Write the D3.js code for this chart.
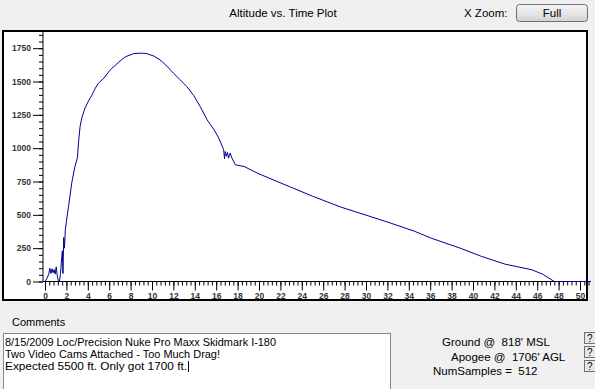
<!DOCTYPE html>
<html>
<head>
<meta charset="utf-8">
<script src="https://cdn.jsdelivr.net/npm/d3@7"></script>
<style>
body { margin: 0; background: #f0f0f0; font-family: "Liberation Sans", Arial, sans-serif; }
svg { display: block; }
.tick text { font-family: "Liberation Sans", Arial, sans-serif; font-weight: bold; font-size: 8.5px; fill: #333; }
</style>
</head>
<body>
<div id="chart"></div>
<script>

// flight samples
var timeSec = [0, 0.2, 0.35, 0.45, 0.55, 0.65, 0.75, 0.85, 0.95, 1.05, 1.15, 1.25, 1.35, 1.45, 1.55, 1.62, 1.68, 1.75, 1.82, 1.9,
    2.0, 2.2, 2.5, 2.8, 3.03, 3.15, 3.28, 3.44, 3.75, 4.1, 4.4, 4.7, 5.0, 5.5, 6.1, 6.9, 7.5, 8.3, 9.0, 9.5,
    10.2, 10.75, 11.4, 12.0, 12.6, 13.25, 13.9, 14.5, 15.15, 15.8, 16.24, 16.7, 16.78, 16.85, 16.95, 17.05, 17.15, 17.3, 17.5, 17.8,
    18.6, 19.84, 21.7, 22.96, 25.0, 27.65, 30.0, 32.3, 34.5, 36.1, 38.8, 40.8, 43.0, 45.5, 46.5, 47.6, 51.0];
var altitudeFt = [0, 25, 55, 100, 60, 95, 65, 90, 55, 110, 40, 5, 0, 60, 170, 230, 60, 330, 250, 390,
    450, 563, 740, 863, 928, 1060, 1163, 1228, 1303, 1360, 1400, 1450, 1488, 1525, 1588, 1646, 1685, 1710, 1713, 1710,
    1690, 1663, 1615, 1563, 1515, 1463, 1395, 1313, 1213, 1138, 1076, 988, 920, 975, 940, 968, 925, 963, 920, 875,
    863, 813, 750, 708, 640, 558, 498, 438, 378, 325, 250, 188, 130, 88, 55, 0, 0];

var xMajorTicks = [0, 2, 4, 6, 8, 10, 12, 14, 16, 18, 20, 22, 24, 26, 28, 30, 32, 34, 36, 38, 40, 42, 44, 46, 48, 50];
var yMajorTicks = [0, 250, 500, 750, 1000, 1250, 1500, 1750];

var commentLines = ["8/15/2009 Loc/Precision Nuke Pro Maxx Skidmark I-180",
    "Two Video Cams Attached - Too Much Drag!",
    "Expected 5500 ft. Only got 1700 ft."];
var infoLines = ["Ground @  818' MSL", "Apogee @  1706' AGL", "NumSamples =  512"];

var w = 595;
var h = 389;

var svg = d3.select("#chart")
            .append("svg")
            .attr("width", w)
            .attr("height", h);

// frame of the plot panel
svg.append("rect")
    .attr("x", 3)
    .attr("y", 31)
    .attr("width", 584)
    .attr("height", 269)
    .attr("fill", "white")
    .attr("stroke", "black")
    .attr("stroke-width", 2);

var x = d3.scaleLinear().domain([0, 50]).range([45, 580]);
var y = d3.scaleLinear().domain([0, 1750]).range([281.5, 48.2]);

// y axis
svg.append("g")
    .attr("transform", "translate(43,0)")
    .call(d3.axisLeft(y).tickValues(d3.range(0, 1851, 50)).tickSize(4).tickFormat(""))
    .call(function(g) { g.select(".domain").remove(); });

svg.append("g")
    .attr("transform", "translate(43,0)")
    .call(d3.axisLeft(y).tickValues(yMajorTicks).tickSize(10).tickPadding(2).tickFormat(d3.format("d")))
    .call(function(g) { g.select(".domain").remove(); });

// x axis
svg.append("g")
    .attr("transform", "translate(0," + y(0) + ")")
    .call(d3.axisBottom(x).tickValues(d3.range(0, 51, 0.4)).tickSize(4).tickFormat(""))
    .call(function(g) { g.select(".domain").remove(); });

svg.append("g")
    .attr("transform", "translate(0," + y(0) + ")")
    .call(d3.axisBottom(x).tickValues(xMajorTicks).tickSize(9).tickPadding(2))
    .call(function(g) { g.select(".domain").remove(); });

svg.append("line")
    .attr("x1", 43).attr("x2", 43)
    .attr("y1", 31).attr("y2", y(0))
    .attr("stroke", "black");

svg.append("line")
    .attr("x1", 43).attr("x2", 591)
    .attr("y1", y(0)).attr("y2", y(0))
    .attr("stroke", "black");

var line = d3.line()
    .x(function(d, i) { return x(timeSec[i]); })
    .y(function(d) { return y(d); });

svg.append("path")
    .datum(altitudeFt)
    .attr("d", line)
    .attr("fill", "none")
    .attr("stroke", "#00008f")
    .attr("stroke-width", 1);

// header
svg.append("text")
    .attr("x", 283)
    .attr("y", 17)
    .attr("text-anchor", "middle")
    .style("font-size", "11.5px")
    .text("Altitude vs. Time Plot");

svg.append("text")
    .attr("x", 464)
    .attr("y", 17)
    .style("font-size", "11.5px")
    .text("X Zoom:");

var grad = svg.append("defs").append("linearGradient")
    .attr("id", "btn")
    .attr("x1", 0).attr("x2", 0).attr("y1", 0).attr("y2", 1);
grad.append("stop").attr("offset", "0%").attr("stop-color", "#f4f4f4");
grad.append("stop").attr("offset", "50%").attr("stop-color", "#e6e6e6");
grad.append("stop").attr("offset", "100%").attr("stop-color", "#d2d2d2");

svg.append("rect")
    .attr("x", 516.5).attr("y", 4.5)
    .attr("width", 71).attr("height", 17)
    .attr("rx", 3)
    .attr("fill", "url(#btn)")
    .attr("stroke", "#707070");

svg.append("text")
    .attr("x", 552)
    .attr("y", 17)
    .attr("text-anchor", "middle")
    .style("font-size", "11.5px")
    .text("Full");

// comments box
svg.append("text")
    .attr("x", 12)
    .attr("y", 326)
    .style("font-size", "11px")
    .text("Comments");

svg.append("rect")
    .attr("x", 3.5).attr("y", 333.5)
    .attr("width", 387).attr("height", 60)
    .attr("fill", "white")
    .attr("stroke", "#828790");

var commentWidths = [271, 215, 182];
svg.selectAll("text.comment")
    .data(commentLines)
    .enter()
    .append("text")
    .attr("class", "comment")
    .attr("x", 5)
    .attr("y", function(d, i) { return 346 + i * 12.2; })
    .attr("textLength", function(d, i) { return commentWidths[i]; })
    .attr("lengthAdjust", "spacingAndGlyphs")
    .style("font-size", "11.5px")
    .text(function(d) { return d; });

svg.append("line")
    .attr("x1", 188.5).attr("x2", 188.5)
    .attr("y1", 361).attr("y2", 372)
    .attr("stroke", "black");

// info labels on the right
var infoX = [442, 451, 433];
svg.selectAll("text.info")
    .data(infoLines)
    .enter()
    .append("text")
    .attr("class", "info")
    .attr("x", function(d, i) { return infoX[i]; })
    .attr("y", function(d, i) { return 346 + i * 14.5; })
    .style("font-size", "11.5px")
    .style("white-space", "pre")
    .text(function(d) { return d; });

svg.selectAll("rect.help")
    .data(infoLines)
    .enter()
    .append("rect")
    .attr("class", "help")
    .attr("x", 584.5)
    .attr("y", function(d, i) { return 332.5 + i * 14; })
    .attr("width", 14).attr("height", 11)
    .attr("fill", "#e8e8e8")
    .attr("stroke", "#707070");

svg.selectAll("text.help")
    .data(infoLines)
    .enter()
    .append("text")
    .attr("class", "help")
    .attr("x", 587)
    .attr("y", function(d, i) { return 342 + i * 14; })
    .style("font-size", "10px")
    .text("?");

</script>
</body>
</html>
